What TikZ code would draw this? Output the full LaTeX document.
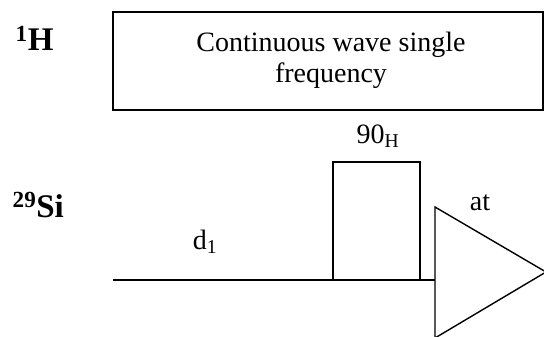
\documentclass[tikz,border=0pt]{standalone}
\usepackage{fontspec}
\setmainfont{Liberation Serif}
\usepackage{tikz}

\begin{document}
\begin{tikzpicture}[x=1pt,y=-1pt,line width=1.4pt,
  txt/.style={anchor=base,inner sep=0pt,font=\fontsize{28}{31}\selectfont},
  nuc/.style={anchor=base west,inner sep=0pt,font=\fontsize{33}{38}\selectfont\bfseries}]
\useasboundingbox (0,0) rectangle (544,337);
\clip (0,0) rectangle (544,337);
% channel labels
\node[nuc] (H) at (15,51) {\textsuperscript{1}H};
\node[nuc] (Si) at (12,217) {\textsuperscript{29}Si};
% decoupling box
\draw (113,12) rectangle (543,110);
\node[txt] (cw1) at (331,52) {Continuous wave single};
\node[txt] (cw2) at (331,83) {frequency};
% silicon channel
\coordinate (s) at (113,280);
\coordinate (p1) at (333,280);
\coordinate (p2) at (420,280);
\coordinate (t1) at (435,207);
\coordinate (t2) at (546,272);
\coordinate (t3) at (435,338);
\draw (s) -- (t1 |- s);
\draw (p1) -- (333,162) -- (420,162) -- (p2);
\draw (t1) -- (t2) -- (t3) -- cycle;
\node[txt] (d) at (205,249) {d\textsubscript{1}};
\node[txt] (pulse) at (378,143) {90\textsubscript{H}};
\node[txt] (at) at (480,210) {at};
\end{tikzpicture}
\end{document}
